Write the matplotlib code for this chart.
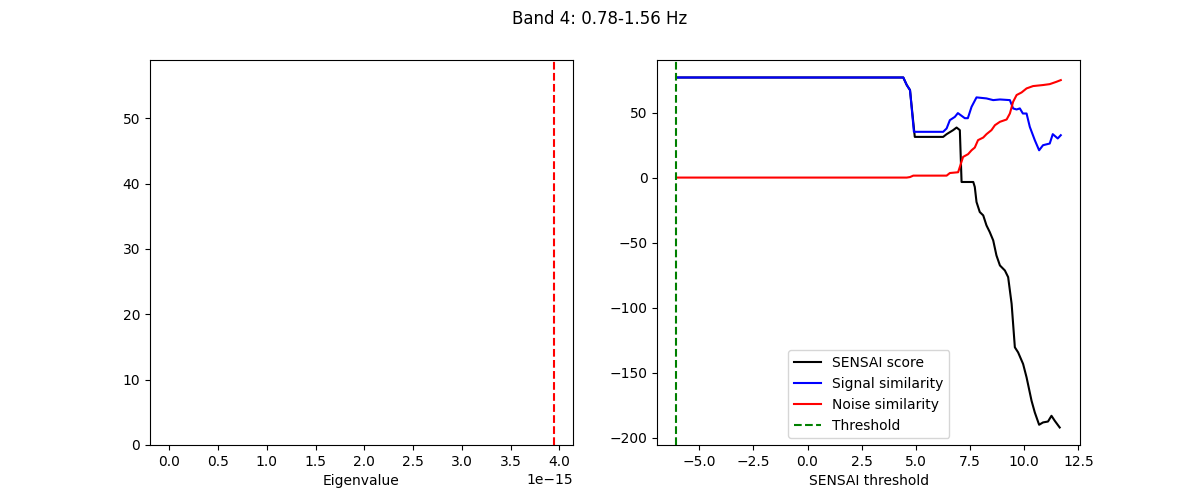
import matplotlib
matplotlib.use('Agg')
import matplotlib.pyplot as plt
import numpy as np

TITLE = 'Band 4: 0.78-1.56 Hz'

# left panel: eigenvalue histogram (empty) + selected eigenvalue
eig_line = 3.946e-15
eig_xlim = (-0.198e-15, 4.137e-15)
eig_ylim = (0, 58.9)

# right panel: SENSAI curves
thr_blue = [-6.05, 4.42, 4.58, 4.73, 4.91, 6.26, 6.42, 6.57, 6.80, 6.94, 7.26, 7.40, 7.57,
            7.80, 8.26, 8.57, 8.88, 9.34, 9.49, 9.65, 9.80, 9.94, 10.11, 10.26, 10.49,
            10.69, 10.87, 11.18, 11.32, 11.55, 11.69]
signal_sim = [77, 77, 71.2, 67.3, 35.2, 35.2, 37.8, 44.2, 46.7, 49.6, 45.7, 45.7, 54.4,
              61.7, 60.9, 59.6, 60.1, 59.6, 53.2, 52.4, 53.2, 49.3, 49.3, 39, 28.8,
              21, 24.9, 26.2, 33.4, 30.1, 32.6]

thr_black = [-6.05, 4.42, 4.58, 4.73, 4.95, 6.26, 6.42, 6.72, 6.88, 7.03, 7.11, 7.65,
             7.72, 7.80, 7.95, 8.11, 8.26, 8.41, 8.57, 8.72, 8.88, 9.11, 9.26, 9.42,
             9.57, 9.72, 9.95, 10.11, 10.34, 10.49, 10.69, 10.87, 11.10, 11.26, 11.41, 11.64]
sensai_score = [77, 77, 71.2, 67.3, 31.3, 31.3, 33.4, 36.5, 38.5, 36.5, -3.4, -3.4,
                -7.2, -18.8, -26.5, -29.1, -36.8, -41.9, -48.3, -59.9, -67.6, -71.5, -76.6, -97.1,
                -130.6, -134.5, -143.4, -153.7, -171.7, -180.7, -190.2, -188.4, -187.7, -183.3,
                -187.1, -192.3]

thr_red = [-6.05, 4.58, 4.73, 4.88, 6.42, 6.57, 6.95, 7.03, 7.18, 7.41, 7.57, 7.72, 7.87,
           8.11, 8.26, 8.49, 8.65, 8.88, 9.19, 9.34, 9.49, 9.65, 9.88, 10.11, 10.41,
           10.87, 11.18, 11.49, 11.69]
noise_sim = [0, 0, 0.4, 1.5, 1.5, 3.5, 4.1, 8.2, 15.9, 18, 21, 23.1, 28.8,
             30.8, 33.4, 36.5, 40.3, 42.9, 44.7, 49.3, 58.3, 63.5, 65.5, 68.6, 70.4,
             71.2, 71.9, 73.7, 75]

threshold = -6.05

fig, (ax1, ax2) = plt.subplots(1, 2, figsize=(12, 5), dpi=100)
fig.suptitle(TITLE)

ax1.axvline(eig_line, color='r', linestyle='--')
ax1.set_xlim(*eig_xlim)
ax1.set_ylim(*eig_ylim)
ax1.set_xlabel('Eigenvalue')

ax2.plot(thr_black, sensai_score, color='k', label='SENSAI score')
ax2.plot(thr_blue, signal_sim, color='b', label='Signal similarity')
ax2.plot(thr_red, noise_sim, color='r', label='Noise similarity')
ax2.axvline(threshold, color='g', linestyle='--', label='Threshold')
ax2.set_xlabel('SENSAI threshold')
ax2.legend(loc='lower center')

fig.savefig('out.png')
